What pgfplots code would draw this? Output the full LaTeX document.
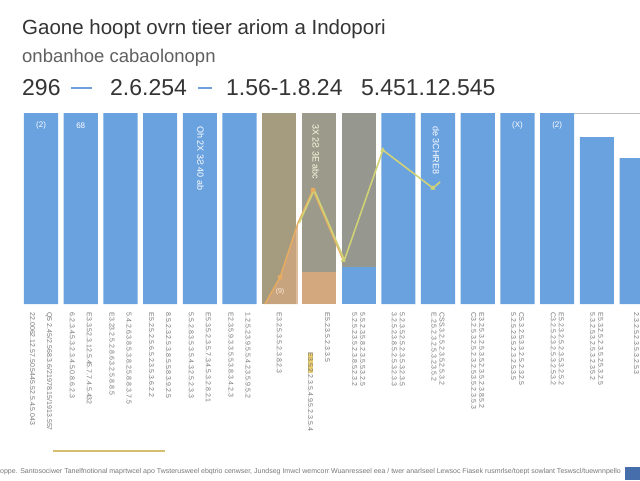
\documentclass[border=0pt]{standalone}
\usepackage{pgfplots}
\pgfplotsset{compat=1.18}
\usepackage{fontspec}
\setmainfont{Liberation Sans}
\definecolor{barblue}{RGB}{106,162,224}
\definecolor{olivegray}{RGB}{165,156,128}
\definecolor{olivegrayb}{RGB}{156,154,138}
\definecolor{olivegrayc}{RGB}{150,151,143}
\definecolor{tanfill}{RGB}{212,168,126}
\definecolor{orangeline}{RGB}{232,172,96}
\definecolor{yelline}{RGB}{208,210,118}
\definecolor{ticktext}{RGB}{120,120,120}
\definecolor{titletext}{RGB}{52,52,52}
\definecolor{subtext}{RGB}{96,96,96}
\definecolor{legblue}{RGB}{110,160,220}
\definecolor{hiyel}{RGB}{236,206,110}
\definecolor{cornerblue}{RGB}{70,110,170}
\begin{document}
\begin{tikzpicture}
\useasboundingbox (0pt,0pt) rectangle (640pt,480pt);
\fill[white] (0pt,0pt) rectangle (640pt,480pt);
% titles
\node[anchor=base west, inner sep=0, text=titletext, font=\fontsize{20.5}{22}\selectfont] at (22pt,445pt) {Gaone hoopt ovrn tieer ariom a Indopori};
\node[anchor=base west, inner sep=0, text=subtext, font=\fontsize{18.5}{20}\selectfont] at (22pt,417pt) {onbanhoe cabaolonopn};
\node[anchor=base west, inner sep=0, text=titletext, font=\fontsize{23}{25}\selectfont] at (22pt,384pt) {296};
\draw[legblue, line width=2.5pt] (71pt,392pt) -- (92pt,392pt);
\node[anchor=base west, inner sep=0, text=titletext, font=\fontsize{23}{25}\selectfont] at (110pt,384pt) {2.6.254};
\draw[legblue, line width=2.5pt] (198pt,392pt) -- (212pt,392pt);
\node[anchor=base west, inner sep=0, text=titletext, font=\fontsize{23}{25}\selectfont] at (226pt,384pt) {1.56-1.8.24};
\node[anchor=base west, inner sep=0, text=titletext, font=\fontsize{23}{25}\selectfont] at (361pt,384pt) {5.451.12.545};
% footnote
\node[anchor=base west, inner sep=0, text=ticktext, font=\fontsize{7}{8}\selectfont] at (0pt,7pt) {oppe. Santosociwer Tanelfnotional maprtwcel apo Twsterusweel ebqtrio cenwser, Jundseg Imwcl wemcorr Wuanresseel eea / twer anarlseel Lewsoc Fiasek rusmrlse/toept sowlant Teswscl/tuewnnpello};
\fill[cornerblue] (625pt,0pt) rectangle (640pt,13pt);
\draw[hiyel!80!gray, line width=1.2pt] (53pt,29pt) -- (165pt,29pt);
\begin{axis}[
  at={(20pt,176pt)}, anchor=south west,
  scale only axis, width=640pt, height=191pt,
  xmin=0.47, xmax=16.59, ymin=0, ymax=100,
  axis line style={draw=none},
  major tick length=0pt,
  ytick=\empty,
  xtick={1,...,16},
  xticklabels={
    {Q5 2.45/2.568.3.6/21978.15/1913.557\\[9pt]22.0062.12.57.50.5445.52.5.4.5.043},
    {E3.3.52.3.12.5.45.7.7.4.5.432\\[9pt]6.2.3.4.5.3.2.3.4.5.0.8.6.2.3},
    {5.4.2.6.3.8.5.3.8.2.5.8.8.3.7.5\\[9pt]E3.23.2.5.2.8.6.3.2.5.8.8.5},
    {8.5.2.3.2.5.3.8.5.5.8.3.9.2.5\\[9pt]E5.2.5.2.5.6.5.2.3.5.3.6.2.2},
    {E5.3.5.2.3.5.7.3.4.5.3.2.8.2.1\\[9pt]5.5.2.8.3.5.3.5.4.3.2.5.2.3.3},
    {1.2.5.2.3.9.5.5.4.2.3.5.9.5.2\\[9pt]E2.3.5.9.3.3.5.5.3.8.3.4.2.3},
    {E3.2.5.3.5.2.3.8.2.3},
    {E5.2.3.5.2.3.3.5\\[9pt]\hspace*{40pt}{\setlength\fboxsep{0pt}\colorbox{hiyel}{E3.5.2}}.2.3.5.4.9.5.2.3.5.4},
    {5.5.2.3.5.8.2.3.5.5.3.2.5\\5.2.5.2.3.5.2.3.8.5.2.3.2},
    {5.2.3.5.2.5.2.3.5.3.2.3.5\\3.2.5.2.3.8.5.2.5.3.2.3.3},
    {CSS.3.2.5.2.3.5.2.5.3.2\\E.2.5.2.3.2.5.3.2.3.5.2},
    {E3.2.5.3.2.5.3.5.2.3.5.2.3.8.5.2\\C3.2.5.3.2.5.2.3.2.5.3.5.2.3.5.3},
    {C5.3.2.5.3.3.2.5.2.3.2.5\\5.2.5.2.3.5.2.3.2.5.3.5},
    {E5.2.3.2.5.2.3.5.3.2.5.2\\C3.2.5.2.3.2.5.3.2.5.3.2},
    {E5.3.2.5.2.3.5.2.5.3.2.5\\5.3.2.5.3.2.5.3.2.3.5.2},
    {2.3.2.5.2.3.5.3.2.5.3}
  },
  xticklabel style={rotate=-90, anchor=west, align=left, text=ticktext, font=\fontsize{7}{8}\selectfont},
  xticklabel shift=5pt,
]
\addplot[color=black!25, line width=1pt, forget plot] coordinates {(14.4,100) (16.6,100)};
% blue bars
\addplot[ybar, bar width=0.86, bar shift=0pt, fill=barblue, draw=none, forget plot] coordinates {
 (1,100) (2,100) (3,100) (4,100) (5,100) (6,100) (10,100) (11,100) (12,100) (13,100) (14,100) (15,87.4) (16,76.4)};
% highlighted bars
\addplot[ybar, bar width=0.86, bar shift=0pt, fill=olivegray, draw=none, forget plot] coordinates {(7,100)};
\addplot[ybar, bar width=0.86, bar shift=0pt, fill=olivegrayb, draw=none, forget plot] coordinates {(8,100)};
\addplot[ybar, bar width=0.86, bar shift=0pt, fill=olivegrayc, draw=none, forget plot] coordinates {(9,100)};
\addplot[ybar, bar width=0.86, bar shift=0pt, fill=barblue, draw=none, forget plot] coordinates {(9,19.4)};
\addplot[ybar, bar width=0.86, bar shift=0pt, fill=tanfill, draw=none, forget plot] coordinates {(8,16.8)};
% area under the orange line
\addplot[fill=tanfill, fill opacity=0.75, draw=none, forget plot] coordinates {(6.64,0) (7.02,14) (7.47,42.4) (7.47,0)} -- cycle;
% lines
\addplot[color=orangeline, line width=1.4pt, forget plot] coordinates {(6.64,0) (7.02,14) (7.47,42.4) (7.85,59.7) (8.61,23.0)};
\addplot[color=yelline, line width=1.6pt, forget plot] coordinates {(7.50,42.4) (7.88,59.7) (8.64,23.0) (9.61,80.6) (10.87,60.7) (11.05,63.9)};
\addplot[only marks, mark=triangle*, mark size=2.5pt, color=yelline, forget plot] coordinates {(8.61,23.0) (9.61,80.6) (10.87,60.7)};
\addplot[only marks, mark=*, mark size=2.2pt, color=orangeline, forget plot] coordinates {(7.02,14) (7.85,59.7)};
% white value texts
\node[text=white, font=\fontsize{8}{9}\selectfont] at (axis cs:1,93.5) {(2)};
\node[text=white, font=\fontsize{8}{9}\selectfont] at (axis cs:2,93.5) {68};
\node[text=white, font=\fontsize{9}{10}\selectfont, rotate=-90, anchor=west] at (axis cs:5.02,95) {Oh 2X 3Ƨ 40 ab};
\node[text=white!90!yellow, font=\fontsize{9}{10}\selectfont, rotate=-90, anchor=west] at (axis cs:7.92,96) {3X 2Ƨ 3E abc};
\node[text=white, font=\fontsize{9}{10}\selectfont, rotate=-90, anchor=west] at (axis cs:10.95,95) {de 3CHRE8};
\node[text=white, font=\fontsize{8}{9}\selectfont] at (axis cs:13,93.5) {(X)};
\node[text=white, font=\fontsize{8}{9}\selectfont] at (axis cs:14,93.5) {(2)};
\node[text=white!85!orange, font=\fontsize{7}{8}\selectfont] at (axis cs:7.02,6.5) {(9)};
\end{axis}
\end{tikzpicture}
\end{document}
